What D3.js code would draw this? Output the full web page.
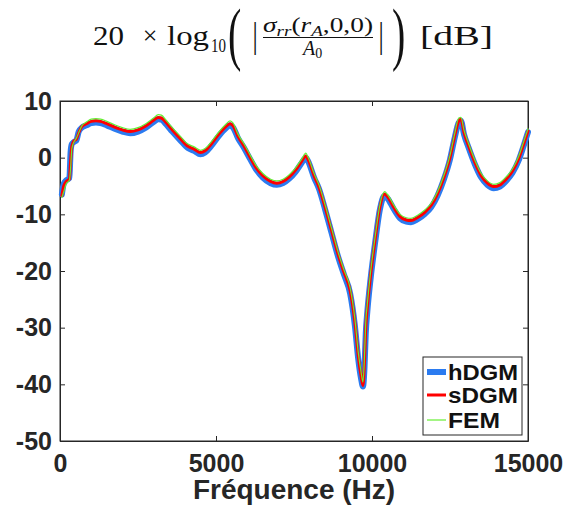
<!DOCTYPE html>
<html>
<head>
<meta charset="utf-8">
<script src="https://cdn.jsdelivr.net/npm/d3@7"></script>
<style>
  body { margin: 0; background: #fff; }
  .tick text { font-family: "Liberation Sans", Arial, sans-serif; font-weight: bold; fill: #262626; }
</style>
</head>
<body>
<div id="chart"></div>
<script>
// frequency samples (Hz), shared by the three curves
const freqs = [
  60, 120, 200, 300, 340, 380, 450, 520, 600, 700,
  850, 1000, 1150, 1300, 1500, 1750, 2000, 2250, 2500, 2750,
  3000, 3150, 3250, 3400, 3600, 3850, 4100, 4300, 4500, 4650,
  4850, 5100, 5300, 5450, 5550, 5700, 5900, 6100, 6300, 6500,
  6750, 6950, 7150, 7350, 7550, 7750, 7880, 7950, 8150, 8300,
  8500, 8700, 8920, 9100, 9300, 9450, 9560, 9650, 9710, 9760,
  9800, 9850, 9950, 10100, 10250, 10400, 10500, 10700, 10900, 11100,
  11250, 11450, 11700, 11900, 12100, 12300, 12500, 12650, 12780, 12850,
  12950, 13100, 13300, 13500, 13700, 13900, 14100, 14300, 14500, 14700,
  14850, 15000
];

// dB values
const hDGM = [
  -6.5, -4.6, -4.0, -3.6, 1.0, 2.4, 2.8, 3.0, 4.6, 5.3,
  5.7, 6.1, 6.2, 6.1, 5.7, 5.1, 4.6, 4.3, 4.6, 5.3,
  6.3, 6.8, 6.7, 5.9, 4.6, 3.1, 1.7, 1.2, 0.6, 0.9,
  2.1, 3.9, 5.1, 5.7, 5.3, 3.5, 1.7, -0.3, -2.2, -3.5,
  -4.5, -4.8, -4.5, -3.7, -2.5, -0.9, 0.0, -0.6, -3.6, -5.5,
  -9.2, -13.2, -17.6, -20.6, -24.0, -29.6, -35.6, -39.0, -40.4, -37.0,
  -31.0, -27.2, -21.6, -15.0, -9.2, -6.7, -7.2, -9.1, -10.7, -11.3,
  -11.4, -10.9, -9.9, -8.7, -6.7, -3.9, -0.3, 3.5, 6.2, 6.5,
  4.1, 1.7, -1.2, -3.5, -4.8, -5.4, -5.1, -4.1, -2.7, -0.5,
  1.9, 4.5
];
const sDGM = [
  -6.7, -5.0, -4.2, -3.8, -0.6, 2.0, 3.0, 3.2, 4.4, 5.5,
  6.0, 6.4, 6.5, 6.4, 6.0, 5.4, 4.9, 4.6, 4.9, 5.6,
  6.6, 7.1, 7.0, 6.2, 4.9, 3.4, 2.0, 1.5, 0.9, 1.2,
  2.4, 4.2, 5.4, 6.0, 5.6, 3.8, 2.0, 0.0, -1.9, -3.2,
  -4.2, -4.5, -4.2, -3.4, -2.2, -0.6, 0.3, -0.3, -3.3, -5.2,
  -8.8, -12.8, -17.2, -20.2, -23.5, -29.0, -35.0, -38.5, -40.2, -36.0,
  -30.0, -26.5, -21.0, -14.5, -8.8, -6.4, -6.9, -8.8, -10.4, -11.0,
  -11.1, -10.6, -9.6, -8.4, -6.4, -3.6, 0.0, 3.8, 6.5, 6.8,
  4.4, 2.0, -0.9, -3.2, -4.5, -5.1, -4.8, -3.8, -2.4, -0.2,
  2.2, 4.7
];
const FEM = [
  -7.0, -6.0, -4.6, -4.0, -1.8, 1.6, 2.8, 3.4, 4.4, 5.6,
  6.3, 6.8, 6.9, 6.8, 6.4, 5.8, 5.3, 5.0, 5.3, 6.0,
  7.0, 7.6, 7.5, 6.6, 5.3, 3.8, 2.4, 1.9, 1.3, 1.6,
  2.8, 4.6, 5.8, 6.5, 6.1, 4.2, 2.4, 0.4, -1.5, -2.8,
  -3.8, -4.1, -3.8, -3.0, -1.8, -0.2, 0.8, 0.1, -2.9, -4.8,
  -8.4, -12.4, -16.8, -19.8, -23.0, -28.4, -34.4, -37.8, -39.6, -35.0,
  -29.0, -25.8, -20.4, -14.0, -8.4, -6.0, -6.5, -8.4, -10.0, -10.6,
  -10.7, -10.2, -9.2, -8.0, -6.0, -3.2, 0.4, 4.2, 7.0, 7.1,
  4.8, 2.4, -0.5, -2.8, -4.1, -4.7, -4.4, -3.4, -2.0, 0.2,
  2.6, 5.1
];

const seriesNames = ['hDGM', 'sDGM', 'FEM'];
const xTicks = [0, 5000, 10000, 15000];
const yTicks = [10, 0, -10, -20, -30, -40, -50];

const width = 579, height = 511;
const margin = { top: 101, right: 51, bottom: 70, left: 60 };
const ink = '#262626';

const svg = d3.select('#chart').append('svg')
  .attr('width', width)
  .attr('height', height);

const x = d3.scaleLinear().domain([0, 15000]).range([margin.left, width - margin.right]);
const y = d3.scaleLinear().domain([-50, 10]).range([height - margin.bottom, margin.top]);

// line styles per series
const styles = {
  hDGM: { color: '#2b7bf0', width: 6 },
  sDGM: { color: '#ff0000', width: 3 },
  FEM: { color: '#66ee33', width: 1.2 }
};
const values = { hDGM: hDGM, sDGM: sDGM, FEM: FEM };

// box around the plot area
svg.append('rect')
  .attr('x', x(0)).attr('y', y(10))
  .attr('width', x(15000) - x(0)).attr('height', y(-50) - y(10))
  .attr('fill', 'none').attr('stroke', ink).attr('stroke-width', 1);

// axes, ticks pointing inwards like matlab
const fmt = d => String(d);
svg.append('g')
  .attr('transform', `translate(0,${y(-50)})`)
  .call(d3.axisBottom(x).tickValues(xTicks).tickFormat(fmt).tickSizeInner(-5).tickSizeOuter(0).tickPadding(13))
  .call(g => g.selectAll('text').style('font-size', '25px'));
svg.append('g')
  .attr('transform', `translate(${x(0)},0)`)
  .call(d3.axisLeft(y).tickValues(yTicks).tickFormat(fmt).tickSizeInner(-5).tickSizeOuter(0).tickPadding(8))
  .call(g => g.selectAll('text').style('font-size', '25px'));
svg.append('g')
  .attr('transform', `translate(0,${y(10)})`)
  .call(d3.axisTop(x).tickValues(xTicks).tickFormat('').tickSizeInner(-5).tickSizeOuter(0));
svg.append('g')
  .attr('transform', `translate(${x(15000)},0)`)
  .call(d3.axisRight(y).tickValues(yTicks).tickFormat('').tickSizeInner(-5).tickSizeOuter(0));
svg.selectAll('.domain').attr('stroke', ink);
svg.selectAll('.tick line').attr('stroke', ink);

// curves
const line = d3.line()
  .x((d, i) => x(freqs[i]))
  .y(d => y(d))
  .curve(d3.curveMonotoneX);

svg.append('g')
  .selectAll('path')
  .data(seriesNames)
  .join('path')
  .attr('d', name => line(values[name]))
  .attr('fill', 'none')
  .attr('stroke', name => styles[name].color)
  .attr('stroke-width', name => styles[name].width)
  .attr('stroke-linejoin', 'round')
  .attr('stroke-linecap', 'round');

// legend
const legend = svg.append('g');
legend.append('rect')
  .attr('x', 423).attr('y', 357).attr('width', 99).attr('height', 78)
  .attr('fill', '#fff').attr('stroke', ink).attr('stroke-width', 1);
const legendY = [372, 395, 420];
seriesNames.forEach((name, i) => {
  legend.append('line')
    .attr('x1', 427).attr('x2', 446)
    .attr('y1', legendY[i]).attr('y2', legendY[i])
    .attr('stroke', styles[name].color)
    .attr('stroke-width', styles[name].width);
  legend.append('text')
    .attr('x', 448).attr('y', legendY[i] + 8)
    .style('font-family', '"Liberation Sans", Arial, sans-serif')
    .style('font-weight', 'bold')
    .style('font-size', '22px')
    .attr('textLength', 70).attr('lengthAdjust', 'spacingAndGlyphs')
    .attr('fill', '#111')
    .text(name);
});
// FEM is shorter than the others
legend.selectAll('text').filter(d => false);
legend.selectAll('text').nodes()[2].setAttribute('textLength', 52);

// x label
svg.append('text')
  .attr('x', (x(0) + x(15000)) / 2).attr('y', 499)
  .attr('text-anchor', 'middle')
  .style('font-family', '"Liberation Sans", Arial, sans-serif')
  .style('font-weight', 'bold')
  .style('font-size', '28px')
  .attr('fill', ink)
  .text('Fréquence (Hz)');

// title: 20 x log10(|sigma_rr(r_A,0,0) / A_0|) [dB]
const title = svg.append('g')
  .style('font-family', '"Liberation Serif", "Times New Roman", serif')
  .attr('fill', '#111');

title.append('text').attr('x', 93).attr('y', 45).style('font-size', '28px')
  .attr('textLength', 31).attr('lengthAdjust', 'spacingAndGlyphs').text('20');
title.append('text').attr('x', 150).attr('y', 44).attr('text-anchor', 'middle').style('font-size', '26px').text('×');
title.append('text').attr('x', 167).attr('y', 45).style('font-size', '27px')
  .attr('textLength', 42).attr('lengthAdjust', 'spacingAndGlyphs').text('log');
title.append('text').attr('x', 211).attr('y', 52).style('font-size', '18px')
  .attr('textLength', 15).attr('lengthAdjust', 'spacingAndGlyphs').text('10');

// large parentheses
title.append('text').attr('transform', 'translate(228,39.5) scale(1,1.75)')
  .attr('y', 10).style('font-size', '40px').text('(');
title.append('text').attr('transform', 'translate(392,39.5) scale(1,1.75)')
  .attr('y', 10).style('font-size', '40px').text(')');

// absolute value bars
title.append('text').attr('transform', 'translate(255,37.5) scale(1,1.35)')
  .attr('y', 7).attr('text-anchor', 'middle').style('font-size', '26px').text('|');
title.append('text').attr('transform', 'translate(381,37.5) scale(1,1.35)')
  .attr('y', 7).attr('text-anchor', 'middle').style('font-size', '26px').text('|');

// numerator
const num = title.append('text').attr('x', 263).attr('y', 32)
  .style('font-size', '20px')
  .attr('textLength', 110).attr('lengthAdjust', 'spacingAndGlyphs');
num.append('tspan').style('font-style', 'italic').text('σ');
num.append('tspan').style('font-style', 'italic').style('font-size', '14px').attr('dy', 4).text('rr');
num.append('tspan').attr('dy', -4).text('(');
num.append('tspan').style('font-style', 'italic').text('r');
num.append('tspan').style('font-style', 'italic').style('font-size', '14px').attr('dy', 4).text('A');
num.append('tspan').attr('dy', -4).text(',0,0)');

// fraction bar
title.append('line').attr('x1', 263).attr('x2', 373).attr('y1', 37.5).attr('y2', 37.5)
  .attr('stroke', '#111').attr('stroke-width', 1);

// denominator
const den = title.append('text').attr('x', 303).attr('y', 55).style('font-size', '20px');
den.append('tspan').style('font-style', 'italic').text('A');
den.append('tspan').style('font-size', '14px').attr('dy', 3).text('0');

title.append('text').attr('x', 420).attr('y', 45).style('font-size', '27px')
  .attr('textLength', 73).attr('lengthAdjust', 'spacingAndGlyphs').text('[dB]');
</script>
</body>
</html>
